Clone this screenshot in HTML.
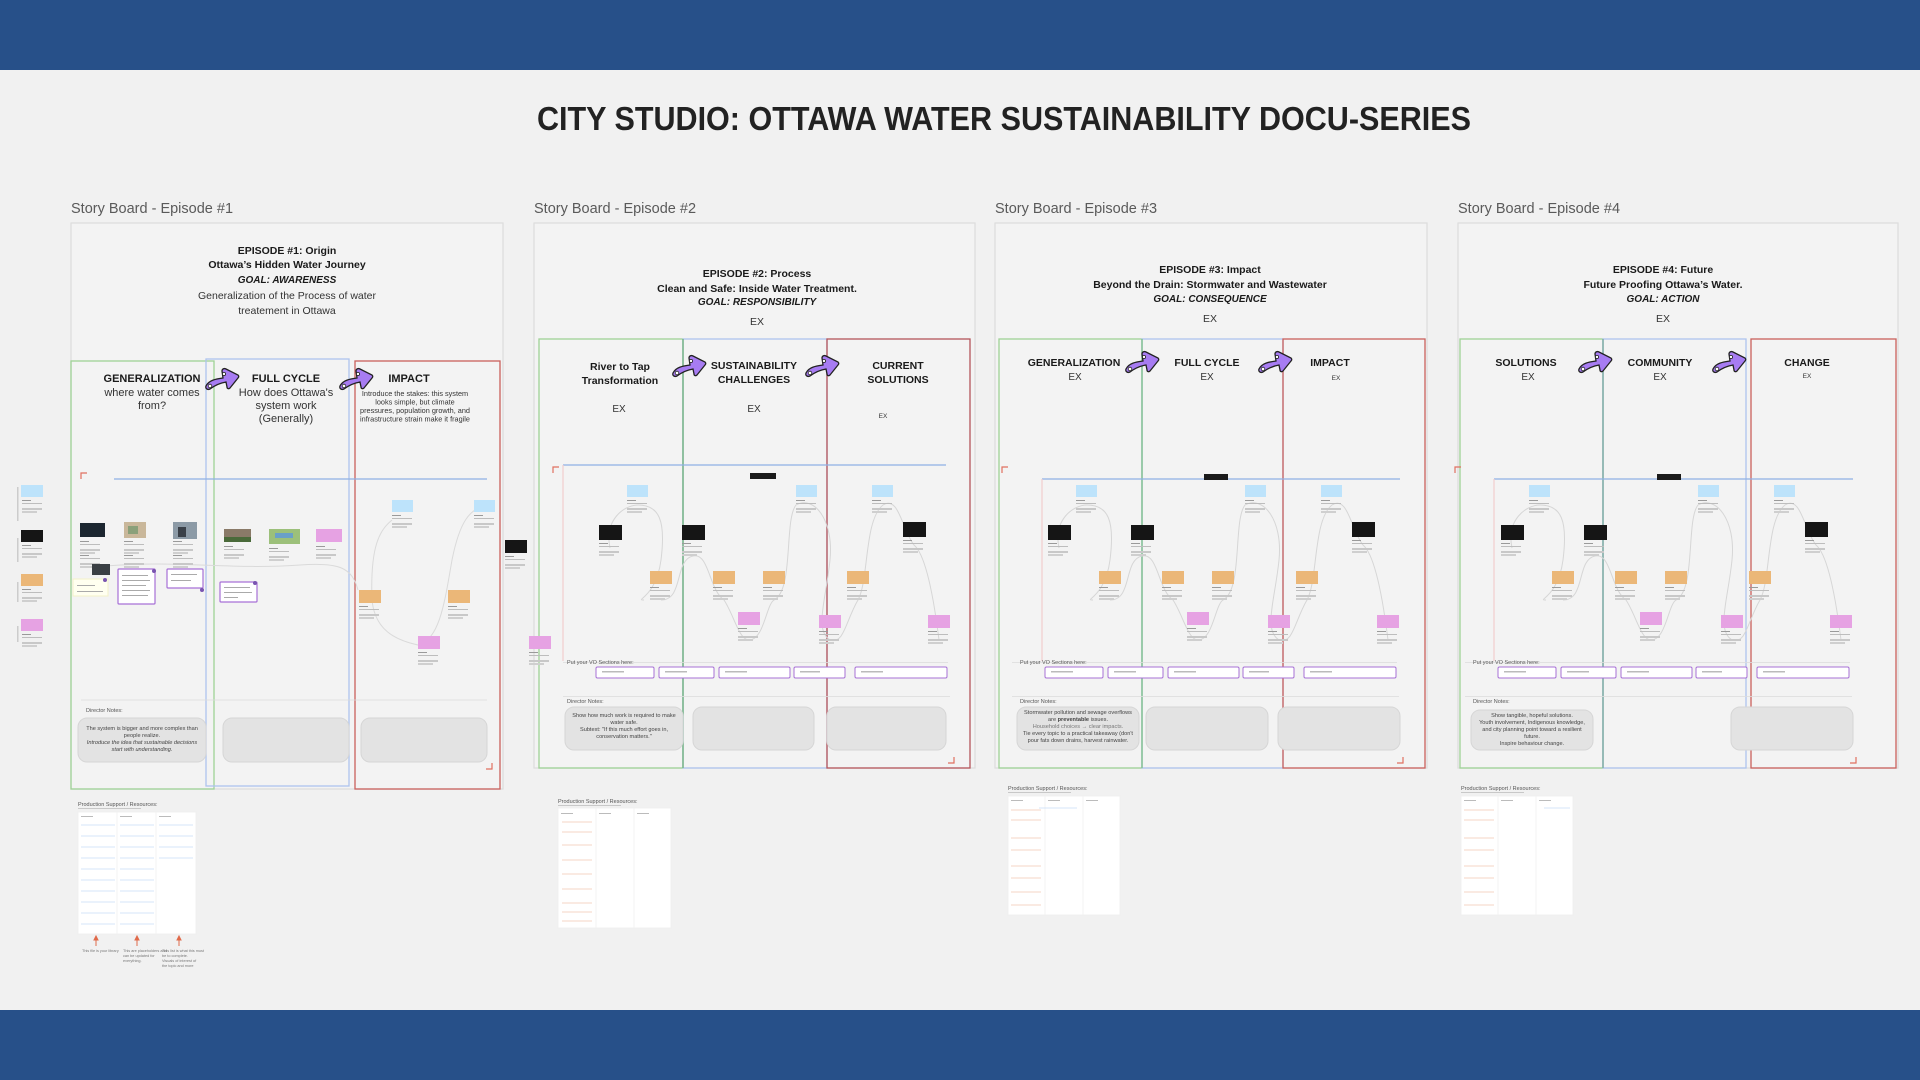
<!DOCTYPE html>
<html><head><meta charset="utf-8"><style>
html,body{margin:0;padding:0;background:#f1f1f1;}
svg{display:block;font-family:"Liberation Sans",Arial,sans-serif;}
</style></head><body>
<svg width="1920" height="1080" viewBox="0 0 1920 1080" xmlns="http://www.w3.org/2000/svg">
<defs>
  <g id="arrow">
    <path d="M2 19 C5 13 12 12 19 11 L18 4 C18 2 20 1 22 2 L34 8 C35 9 35 10 34 11 L26 21 C25 22 23 22 23 20 L22 15 C16 16 10 19 6 22 C4 23 1 22 2 19 Z" fill="#a77cf2" stroke="#222" stroke-width="1.3"/>
    <circle cx="6" cy="19" r="1.8" fill="#fff" stroke="#222" stroke-width="0.8"/>
    <circle cx="20" cy="7" r="1.6" fill="#fff" stroke="#222" stroke-width="0.8"/>
  </g>
  <g id="cap">
    <rect x="0" y="0" width="9" height="1" fill="#9a9a9a"/>
    <rect x="0" y="3" width="20" height="1" fill="#bdbdbd"/>
    <rect x="0" y="8" width="20" height="2" fill="#c8c8c8"/>
    <rect x="0" y="11" width="15" height="2" fill="#cfcfcf"/>
  </g>
  <g id="tl">
    <path d="M76 548 C70 520 90 505 104 505 C125 505 132 520 127 560 C122 598 100 600 110 600 M127 600 C150 600 140 560 159 556 C175 552 175 590 190 600 C200 615 205 640 215 640 C230 640 232 605 240 600 C260 590 250 520 262 505 C280 495 300 520 296 560 C292 600 280 630 296 640 C310 645 312 620 324 600 C335 580 330 520 349 505 C365 495 368 530 380 545 C392 555 400 600 405 640" fill="none" stroke="#d6d6d6" stroke-width="1"/>
    <rect x="93" y="485" width="21" height="12" fill="#bde3fb"/><use href="#cap" x="93" y="500"/>
    <rect x="262" y="485" width="21" height="12" fill="#bde3fb"/><use href="#cap" x="262" y="500"/>
    <rect x="338" y="485" width="21" height="12" fill="#bde3fb"/><use href="#cap" x="338" y="500"/>
    <rect x="65" y="525" width="23" height="15" fill="#151515"/><use href="#cap" x="65" y="543"/>
    <rect x="148" y="525" width="23" height="15" fill="#151515"/><use href="#cap" x="148" y="543"/>
    <rect x="369" y="522" width="23" height="15" fill="#151515"/><use href="#cap" x="369" y="540"/>
    <rect x="116" y="571" width="22" height="13" fill="#ebb778"/><use href="#cap" x="116" y="587"/>
    <rect x="179" y="571" width="22" height="13" fill="#ebb778"/><use href="#cap" x="179" y="587"/>
    <rect x="229" y="571" width="22" height="13" fill="#ebb778"/><use href="#cap" x="229" y="587"/>
    <rect x="313" y="571" width="22" height="13" fill="#ebb778"/><use href="#cap" x="313" y="587"/>
    <rect x="204" y="612" width="22" height="13" fill="#e6a2e3"/><use href="#cap" x="204" y="628"/>
    <rect x="285" y="615" width="22" height="13" fill="#e6a2e3"/><use href="#cap" x="285" y="631"/>
    <rect x="394" y="615" width="22" height="13" fill="#e6a2e3"/><use href="#cap" x="394" y="631"/>
    <path d="M19 473 v-6 h6" fill="none" stroke="#e07060" stroke-width="1.2"/>
    <path d="M420 757 v6 h-6" fill="none" stroke="#e07060" stroke-width="1.2"/>
    <rect x="29" y="662" width="385" height="0.8" fill="#ddd"/>
    <g fill="#fff" stroke="#a770d6" stroke-width="1">
      <rect x="62" y="667" width="58" height="11" rx="1.5"/>
      <rect x="125" y="667" width="55" height="11" rx="1.5"/>
      <rect x="185" y="667" width="71" height="11" rx="1.5"/>
      <rect x="260" y="667" width="51" height="11" rx="1.5"/>
      <rect x="321" y="667" width="92" height="11" rx="1.5"/>
    </g>
    <g fill="#bbb">
      <rect x="68" y="671" width="22" height="1.5"/><rect x="131" y="671" width="22" height="1.5"/>
      <rect x="191" y="671" width="22" height="1.5"/><rect x="266" y="671" width="20" height="1.5"/>
      <rect x="327" y="671" width="22" height="1.5"/>
    </g>
    <rect x="29" y="696" width="387" height="0.8" fill="#ddd"/>
  </g>
</defs>

<rect x="0" y="0" width="1920" height="70" fill="#275089"/>
<rect x="0" y="1010" width="1920" height="70" fill="#275089"/>

<text x="1004" y="130" text-anchor="middle" font-size="33" font-weight="bold" fill="#222" textLength="934" lengthAdjust="spacingAndGlyphs">CITY STUDIO: OTTAWA WATER SUSTAINABILITY DOCU-SERIES</text>

<g font-size="14.5" fill="#5a5a5a">
  <text x="71" y="213">Story Board - Episode #1</text>
  <text x="534" y="213">Story Board - Episode #2</text>
  <text x="995" y="213">Story Board - Episode #3</text>
  <text x="1458" y="213">Story Board - Episode #4</text>
</g>

<!-- frames -->
<g fill="#f3f3f3" stroke="#dcdcdc" stroke-width="1.2">
  <rect x="71" y="223" width="432" height="566"/>
  <rect x="534" y="223" width="441" height="545"/>
  <rect x="995" y="223" width="432" height="545"/>
  <rect x="1458" y="223" width="440" height="545"/>
</g>

<!-- column rects -->
<g fill="none" stroke-width="1.3">
  <rect x="71" y="361" width="143" height="428" stroke="#9ed296"/>
  <rect x="206" y="359" width="143" height="427" stroke="#aec4ee"/>
  <rect x="355" y="361" width="145" height="428" stroke="#c9605c"/>
  <rect x="539" y="339" width="144" height="429" stroke="#9ed296"/>
  <rect x="683" y="339" width="144" height="429" stroke="#aec4ee"/>
  <rect x="827" y="339" width="143" height="429" stroke="#b5555a"/>
  <rect x="999" y="339" width="143" height="429" stroke="#9ed296"/>
  <rect x="1142" y="339" width="141" height="429" stroke="#aec4ee"/>
  <rect x="1283" y="339" width="142" height="429" stroke="#c9605c"/>
  <rect x="1460" y="339" width="143" height="429" stroke="#9ed296"/>
  <rect x="1603" y="339" width="143" height="429" stroke="#aec4ee"/>
  <rect x="1751" y="339" width="145" height="429" stroke="#c9605c"/>
</g>
<g stroke-width="1.3">
  <line x1="683" y1="339" x2="683" y2="768" stroke="#6fb07e"/>
  <line x1="1142" y1="339" x2="1142" y2="768" stroke="#7fbf8e"/>
  <line x1="1603" y1="339" x2="1603" y2="768" stroke="#7aa8a0"/>
</g>

<!-- episode headers -->
<g text-anchor="middle" fill="#1a1a1a">
  <text x="287" y="254" font-size="10.5" font-weight="bold">EPISODE #1: Origin</text>
  <text x="287" y="268" font-size="10.5" font-weight="bold">Ottawa’s Hidden Water Journey</text>
  <text x="287" y="283" font-size="10" font-weight="bold" font-style="italic">GOAL: AWARENESS</text>
  <text x="287" y="299" font-size="10.5" fill="#333">Generalization of the Process of water</text>
  <text x="287" y="314" font-size="10.5" fill="#333">treatement in Ottawa</text>

  <text x="757" y="277" font-size="10.5" font-weight="bold">EPISODE #2: Process</text>
  <text x="757" y="292" font-size="10.5" font-weight="bold">Clean and Safe: Inside Water Treatment.</text>
  <text x="757" y="305" font-size="10" font-weight="bold" font-style="italic">GOAL: RESPONSIBILITY</text>
  <text x="757" y="325" font-size="10.5" fill="#333">EX</text>

  <text x="1210" y="273" font-size="10.5" font-weight="bold">EPISODE #3: Impact</text>
  <text x="1210" y="288" font-size="10.5" font-weight="bold">Beyond the Drain: Stormwater and Wastewater</text>
  <text x="1210" y="302" font-size="10" font-weight="bold" font-style="italic">GOAL: CONSEQUENCE</text>
  <text x="1210" y="322" font-size="10.5" fill="#333">EX</text>

  <text x="1663" y="273" font-size="10.5" font-weight="bold">EPISODE #4: Future</text>
  <text x="1663" y="288" font-size="10.5" font-weight="bold">Future Proofing Ottawa’s Water.</text>
  <text x="1663" y="302" font-size="10" font-weight="bold" font-style="italic">GOAL: ACTION</text>
  <text x="1663" y="322" font-size="10.5" fill="#333">EX</text>
</g>

<!-- column headers -->
<g text-anchor="middle" fill="#1a1a1a">
  <text x="152" y="382" font-size="11" font-weight="bold">GENERALIZATION</text>
  <text x="152" y="396" font-size="11" fill="#333">where water comes</text>
  <text x="152" y="409" font-size="11" fill="#333">from?</text>
  <text x="286" y="382" font-size="11" font-weight="bold">FULL CYCLE</text>
  <text x="286" y="396" font-size="11" fill="#333">How does Ottawa's</text>
  <text x="286" y="409" font-size="11" fill="#333">system work</text>
  <text x="286" y="422" font-size="11" fill="#333">(Generally)</text>
  <text x="409" y="382" font-size="11" font-weight="bold">IMPACT</text>
  <g font-size="7.3" fill="#333">
    <text x="415" y="396">Introduce the stakes: this system</text>
    <text x="415" y="404.5">looks simple, but climate</text>
    <text x="415" y="413">pressures, population growth, and</text>
    <text x="415" y="421.5">infrastructure strain make it fragile</text>
  </g>

  <text x="620" y="370" font-size="10.5" font-weight="bold">River to Tap</text>
  <text x="620" y="384" font-size="10.5" font-weight="bold">Transformation</text>
  <text x="619" y="412" font-size="10" fill="#333">EX</text>
  <text x="754" y="369" font-size="10.5" font-weight="bold">SUSTAINABILITY</text>
  <text x="754" y="383" font-size="10.5" font-weight="bold">CHALLENGES</text>
  <text x="754" y="412" font-size="10" fill="#333">EX</text>
  <text x="898" y="369" font-size="10.5" font-weight="bold">CURRENT</text>
  <text x="898" y="383" font-size="10.5" font-weight="bold">SOLUTIONS</text>
  <text x="883" y="418" font-size="6.5" fill="#333">EX</text>

  <text x="1074" y="366" font-size="10.5" font-weight="bold">GENERALIZATION</text>
  <text x="1075" y="380" font-size="10" fill="#333">EX</text>
  <text x="1207" y="366" font-size="10.5" font-weight="bold">FULL CYCLE</text>
  <text x="1207" y="380" font-size="10" fill="#333">EX</text>
  <text x="1330" y="366" font-size="10.5" font-weight="bold">IMPACT</text>
  <text x="1336" y="380" font-size="6.5" fill="#333">EX</text>

  <text x="1526" y="366" font-size="10.5" font-weight="bold">SOLUTIONS</text>
  <text x="1528" y="380" font-size="10" fill="#333">EX</text>
  <text x="1660" y="366" font-size="10.5" font-weight="bold">COMMUNITY</text>
  <text x="1660" y="380" font-size="10" fill="#333">EX</text>
  <text x="1807" y="366" font-size="10.5" font-weight="bold">CHANGE</text>
  <text x="1807" y="378" font-size="6.5" fill="#333">EX</text>
</g>

<!-- arrows -->
<use href="#arrow" x="204" y="367"/><use href="#arrow" x="338" y="367"/>
<use href="#arrow" x="671" y="354"/><use href="#arrow" x="804" y="354"/>
<use href="#arrow" x="1124" y="350"/><use href="#arrow" x="1257" y="350"/>
<use href="#arrow" x="1577" y="350"/><use href="#arrow" x="1711" y="350"/>

<!-- timelines ep2-4 -->
<use href="#tl" x="534" y="0"/>
<use href="#tl" x="983" y="0"/>
<use href="#tl" x="1436" y="0"/>
<g stroke-width="1.2">
  <line x1="563" y1="465" x2="946" y2="465" stroke="#8fb0e4"/>
  <line x1="563" y1="465" x2="563" y2="661" stroke="#f2cccc"/>
  <line x1="1042" y1="479" x2="1400" y2="479" stroke="#8fb0e4"/>
  <line x1="1042" y1="479" x2="1042" y2="661" stroke="#f2cccc"/>
  <line x1="1494" y1="479" x2="1853" y2="479" stroke="#8fb0e4"/>
  <line x1="1494" y1="479" x2="1494" y2="661" stroke="#f2cccc"/>
</g>
<rect x="750" y="473" width="26" height="6" fill="#1a1a1a"/>
<rect x="1204" y="474" width="24" height="6" fill="#1a1a1a"/>
<rect x="1657" y="474" width="24" height="6" fill="#1a1a1a"/>
<g font-size="5.5" fill="#555">
  <text x="567" y="664">Put your VO Sections here:</text>
  <text x="567" y="703">Director Notes:</text>
  <text x="1020" y="664">Put your VO Sections here:</text>
  <text x="1020" y="703">Director Notes:</text>
  <text x="1473" y="664">Put your VO Sections here:</text>
  <text x="1473" y="703">Director Notes:</text>
</g>

<!-- notes boxes ep2-4 -->
<g fill="#e3e3e3" stroke="#d6d6d6" stroke-width="1">
  <rect x="565" y="707" width="118" height="43" rx="9"/>
  <rect x="693" y="707" width="121" height="43" rx="9"/>
  <rect x="827" y="707" width="119" height="43" rx="9"/>
  <rect x="1017" y="707" width="122" height="43" rx="9"/>
  <rect x="1146" y="707" width="122" height="43" rx="9"/>
  <rect x="1278" y="707" width="122" height="43" rx="9"/>
  <rect x="1471" y="710" width="122" height="40" rx="9"/>
  <rect x="1731" y="707" width="122" height="43" rx="9"/>
</g>
<g font-size="5.6" fill="#444" text-anchor="middle">
  <text x="624" y="717">Show how much work is required to make</text>
  <text x="624" y="724">water safe.</text>
  <text x="624" y="731">Subtext: "If this much effort goes in,</text>
  <text x="624" y="738">conservation matters."</text>
  <text x="1078" y="714">Stormwater pollution and sewage overflows</text>
  <text x="1078" y="721">are <tspan font-weight="bold">preventable</tspan> issues.</text>
  <text x="1078" y="728" fill="#777">Household choices → clear impacts.</text>
  <text x="1078" y="735">Tie every topic to a practical takeaway (don't</text>
  <text x="1078" y="742">pour fats down drains, harvest rainwater.</text>
  <text x="1532" y="717">Show tangible, hopeful solutions.</text>
  <text x="1532" y="724">Youth involvement, Indigenous knowledge,</text>
  <text x="1532" y="731">and city planning point toward a resilient</text>
  <text x="1532" y="738">future.</text>
  <text x="1532" y="745">Inspire behaviour change.</text>
</g>

<!-- Episode 1 content -->
<line x1="114" y1="479" x2="487" y2="479" stroke="#8fb0e4" stroke-width="1.2"/>
<path d="M81 479 v-6 h6" fill="none" stroke="#e07060" stroke-width="1.2"/>
<path d="M492 763 v6 h-6" fill="none" stroke="#e07060" stroke-width="1.2"/>
<path d="M105 566 C180 560 230 570 300 565 C340 562 352 568 358 590 M392 520 C380 530 370 545 372 600 C375 630 395 640 418 645 C440 640 445 600 452 560 C460 520 470 510 485 505" fill="none" stroke="#dadada" stroke-width="1"/>
<rect x="80" y="523" width="25" height="14" fill="#1c2630"/>
<rect x="124" y="522" width="22" height="16" fill="#c9b79a"/><rect x="128" y="526" width="10" height="8" fill="#8aa07a"/>
<rect x="173" y="522" width="24" height="17" fill="#8c9aa6"/><rect x="178" y="527" width="8" height="10" fill="#3a4048"/>
<rect x="224" y="529" width="27" height="13" fill="#8a7a68"/><rect x="224" y="537" width="27" height="5" fill="#4a6a3a"/>
<rect x="269" y="529" width="31" height="15" fill="#9cc07a"/><rect x="275" y="533" width="18" height="5" fill="#6aa0c8"/>
<rect x="316" y="529" width="26" height="13" fill="#e6a2e3"/>
<use href="#cap" x="80" y="541"/><use href="#cap" x="124" y="541"/><use href="#cap" x="173" y="541"/>
<use href="#cap" x="224" y="546"/><use href="#cap" x="269" y="548"/><use href="#cap" x="316" y="546"/>
<use href="#cap" x="80" y="555"/><use href="#cap" x="124" y="555"/><use href="#cap" x="173" y="555"/>
<rect x="92" y="564" width="18" height="11" fill="#3a3f44"/>
<rect x="73" y="579" width="35" height="17" fill="#fffff0" stroke="#f3f0c8"/>
<g fill="#fff" stroke="#a770d6" stroke-width="1.2">
  <rect x="118" y="569" width="37" height="35" rx="1"/>
  <rect x="167" y="569" width="36" height="19" rx="1"/>
  <rect x="220" y="582" width="37" height="20" rx="1"/>
</g>
<g fill="#aaa">
  <rect x="122" y="575" width="26" height="1"/><rect x="122" y="580" width="28" height="1"/><rect x="122" y="585" width="24" height="1"/><rect x="122" y="590" width="28" height="1"/><rect x="122" y="595" width="26" height="1"/>
  <rect x="171" y="574" width="26" height="1"/><rect x="171" y="580" width="20" height="1"/>
  <rect x="224" y="587" width="26" height="1"/><rect x="224" y="592" width="28" height="1"/><rect x="224" y="597" width="14" height="1"/>
  <rect x="77" y="585" width="18" height="1"/><rect x="77" y="591" width="26" height="1"/>
</g>
<g fill="#7a55b0"><circle cx="105" cy="580" r="2"/><circle cx="154" cy="571" r="2"/><circle cx="202" cy="590" r="2"/><circle cx="255" cy="583" r="2"/></g>
<rect x="392" y="500" width="21" height="12" fill="#bde3fb"/><use href="#cap" x="392" y="515"/>
<rect x="474" y="500" width="21" height="12" fill="#bde3fb"/><use href="#cap" x="474" y="515"/>
<rect x="359" y="590" width="22" height="13" fill="#ebb778"/><use href="#cap" x="359" y="606"/>
<rect x="448" y="590" width="22" height="13" fill="#ebb778"/><use href="#cap" x="448" y="606"/>
<rect x="418" y="636" width="22" height="13" fill="#e6a2e3"/><use href="#cap" x="418" y="652"/>
<rect x="505" y="540" width="22" height="13" fill="#151515"/><use href="#cap" x="505" y="556"/>
<rect x="529" y="636" width="22" height="13" fill="#e6a2e3"/><use href="#cap" x="529" y="652"/>
<line x1="81" y1="700" x2="487" y2="700" stroke="#ddd" stroke-width="0.8"/>
<text x="86" y="712" font-size="5.5" fill="#555">Director Notes:</text>
<g fill="#e3e3e3" stroke="#d6d6d6" stroke-width="1">
  <rect x="78" y="718" width="128" height="44" rx="9"/>
  <rect x="223" y="718" width="126" height="44" rx="9"/>
  <rect x="361" y="718" width="126" height="44" rx="9"/>
</g>
<g font-size="5.6" fill="#444" text-anchor="middle">
  <text x="142" y="730">The system is bigger and more complex than</text>
  <text x="142" y="737">people realize.</text>
  <text x="142" y="744" font-style="italic">Introduce the idea that sustainable decisions</text>
  <text x="142" y="751" font-style="italic">start with understanding.</text>
</g>

<!-- left sidebar -->
<rect x="21" y="485" width="22" height="12" fill="#bde3fb"/><use href="#cap" x="22" y="500"/>
<rect x="21" y="530" width="22" height="12" fill="#151515"/><use href="#cap" x="22" y="545"/>
<rect x="21" y="574" width="22" height="12" fill="#ebb778"/><use href="#cap" x="22" y="589"/>
<rect x="21" y="619" width="22" height="12" fill="#e6a2e3"/><use href="#cap" x="22" y="634"/>
<g fill="#ccc"><rect x="17" y="487" width="1.5" height="34"/><rect x="17" y="538" width="1.5" height="24"/><rect x="17" y="582" width="1.5" height="20"/><rect x="17" y="626" width="1.5" height="16"/></g>

<!-- production support -->
<g font-size="5.5" fill="#555">
  <text x="78" y="806">Production Support / Resources:</text>
  <text x="558" y="803">Production Support / Resources:</text>
  <text x="1008" y="790">Production Support / Resources:</text>
  <text x="1461" y="790">Production Support / Resources:</text>
</g>
<g fill="#c8c8c8">
  <rect x="78" y="808" width="63" height="1"/><rect x="558" y="805" width="63" height="1"/>
  <rect x="1008" y="792" width="63" height="1"/><rect x="1461" y="792" width="63" height="1"/>
</g>
<g fill="#fff" stroke="#eee" stroke-width="0.8">
  <rect x="78" y="812" width="118" height="122"/>
  <rect x="558" y="808" width="113" height="120"/>
  <rect x="1008" y="796" width="112" height="119"/>
  <rect x="1461" y="796" width="112" height="119"/>
</g>
<g stroke="#f0f0f0" stroke-width="0.8">
  <line x1="117" y1="812" x2="117" y2="934"/><line x1="156" y1="812" x2="156" y2="934"/>
  <line x1="596" y1="808" x2="596" y2="928"/><line x1="634" y1="808" x2="634" y2="928"/>
  <line x1="1045" y1="796" x2="1045" y2="915"/><line x1="1083" y1="796" x2="1083" y2="915"/>
  <line x1="1498" y1="796" x2="1498" y2="915"/><line x1="1536" y1="796" x2="1536" y2="915"/>
</g>
<g fill="none" stroke="#d4e4f8" stroke-width="0.9">
  <path d="M81 825 h34 M81 836 h34 M81 847 h34 M81 858 h34 M81 869 h34 M81 880 h34 M81 891 h34 M81 902 h34 M81 913 h34 M81 924 h34"/>
  <path d="M120 825 h34 M120 836 h34 M120 847 h34 M120 858 h34 M120 869 h34 M120 880 h34 M120 891 h34 M120 902 h34 M120 913 h34 M120 924 h34"/>
  <path d="M159 825 h34 M159 836 h34 M159 847 h34 M159 858 h34"/>
  <path d="M1039 808 h38"/><path d="M1544 808 h26"/>
</g>
<g fill="none" stroke="#f6d6c4" stroke-width="0.9">
  <path d="M562 822 h30 M562 832 h30 M562 845 h30 M562 860 h30 M562 874 h30 M562 889 h30 M562 903 h30 M562 912 h30 M562 921 h30"/>
  <path d="M1011 810 h30 M1011 820 h30 M1011 838 h30 M1011 850 h30 M1011 866 h30 M1011 878 h30 M1011 892 h30 M1011 905 h30"/>
  <path d="M1464 810 h30 M1464 820 h30 M1464 838 h30 M1464 850 h30 M1464 866 h30 M1464 878 h30 M1464 892 h30 M1464 905 h30"/>
</g>
<g fill="#bbb">
  <rect x="81" y="816" width="12" height="1"/><rect x="120" y="816" width="12" height="1"/><rect x="159" y="816" width="12" height="1"/>
  <rect x="561" y="813" width="12" height="1"/><rect x="599" y="813" width="12" height="1"/><rect x="637" y="813" width="12" height="1"/>
  <rect x="1011" y="800" width="12" height="1"/><rect x="1048" y="800" width="12" height="1"/><rect x="1086" y="800" width="12" height="1"/>
  <rect x="1464" y="800" width="12" height="1"/><rect x="1501" y="800" width="12" height="1"/><rect x="1539" y="800" width="12" height="1"/>
</g>
<g stroke="#e06a4a" stroke-width="1" fill="#e06a4a">
  <line x1="96" y1="946" x2="96" y2="938"/><path d="M94 940 L96 936 L98 940 Z"/>
  <line x1="137" y1="946" x2="137" y2="938"/><path d="M135 940 L137 936 L139 940 Z"/>
  <line x1="179" y1="946" x2="179" y2="938"/><path d="M177 940 L179 936 L181 940 Z"/>
</g>
<g font-size="3.8" fill="#777">
  <text x="82" y="952">This file is your library</text>
  <text x="123" y="952">This are placeholders and</text><text x="123" y="957">can be updated for</text><text x="123" y="962">everything.</text>
  <text x="162" y="952">This list is what this must</text><text x="162" y="957">be to complete.</text><text x="162" y="962">Visuals of interest of</text><text x="162" y="967">the topic and more</text>
</g>
</svg>
</body></html>
